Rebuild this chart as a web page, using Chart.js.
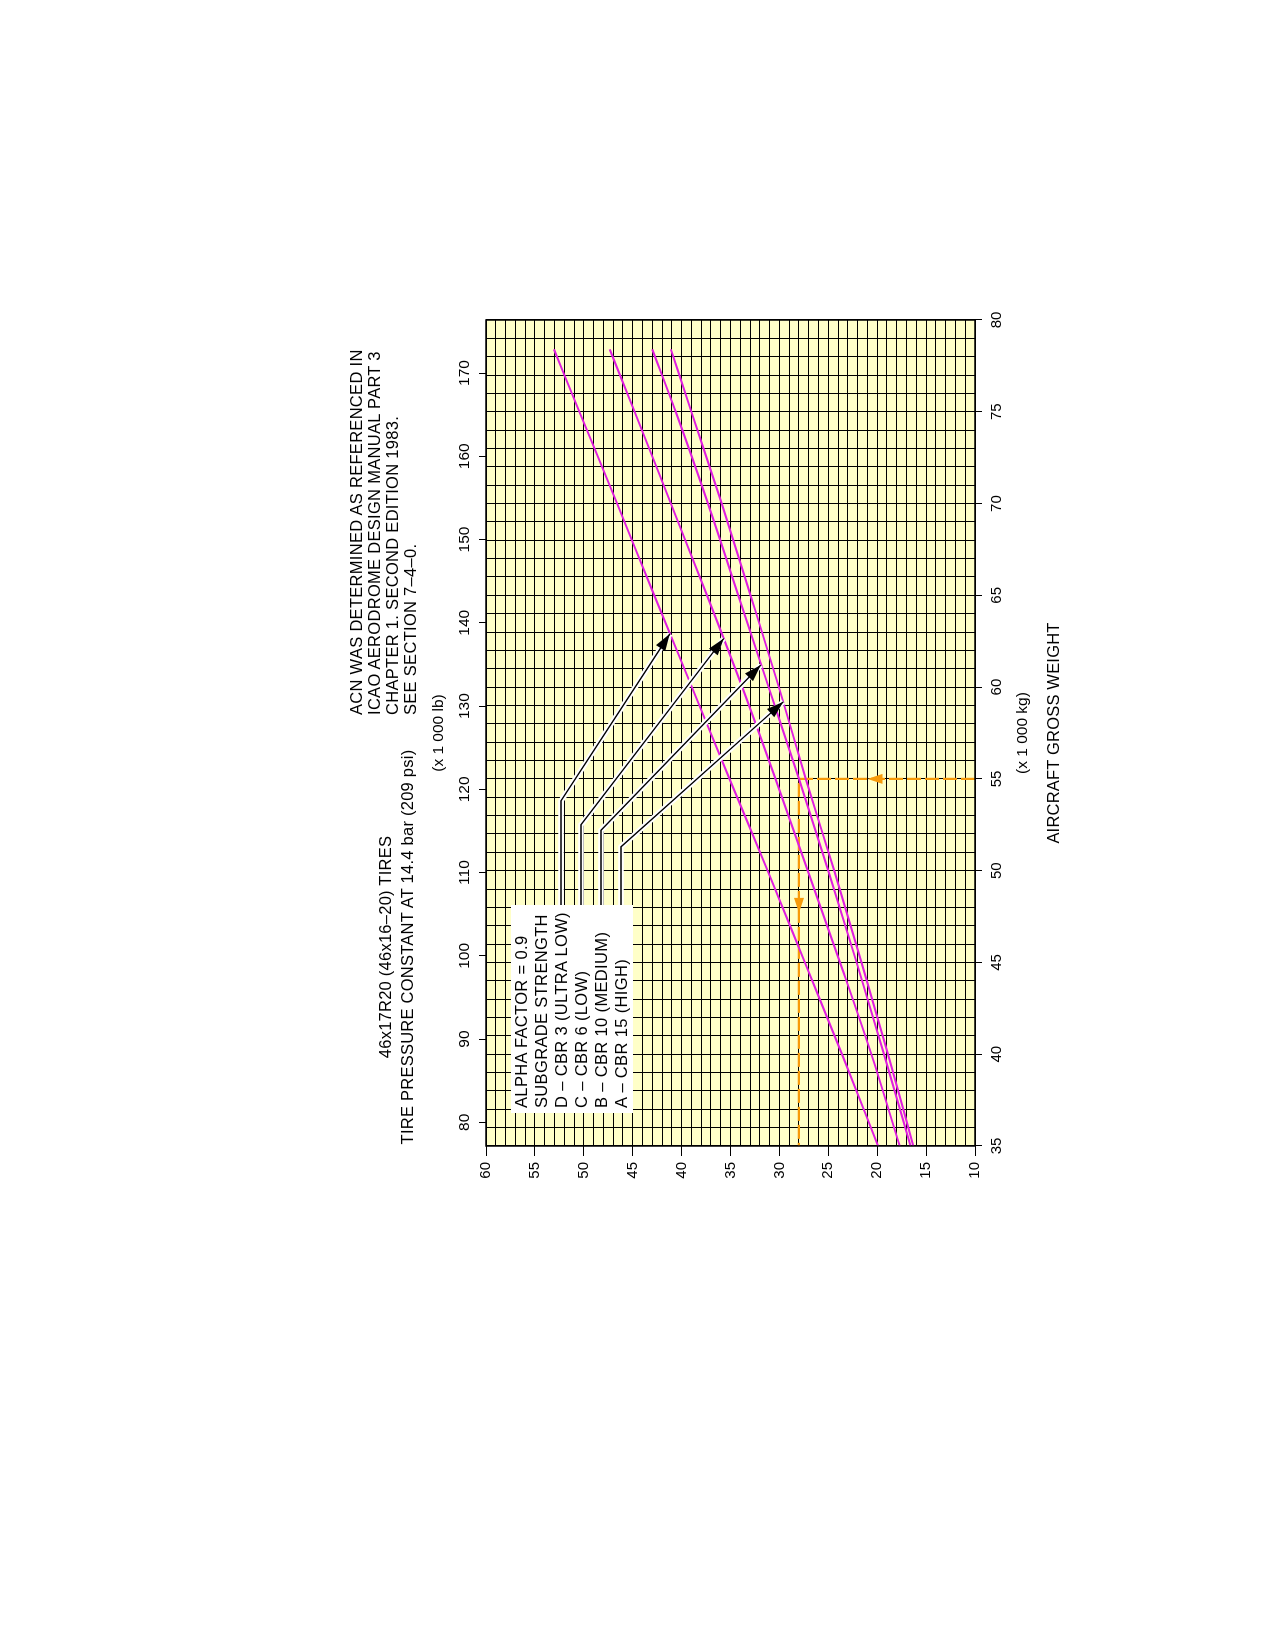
<!DOCTYPE html>
<html>
<head>
<meta charset="utf-8">
<script src="https://cdn.jsdelivr.net/npm/chart.js@4.4.1/dist/chart.umd.min.js"></script>
<style>
  html, body { margin: 0; padding: 0; background: #fff; overflow: hidden; width: 1275px; height: 1645px; }
  /* the chart is laid out upright and then turned a quarter turn, like the printed page */
  #page { position: absolute; left: 0; top: 1645px; width: 1645px; height: 1275px;
          transform-origin: 0 0; transform: rotate(-90deg);
          font-family: "Liberation Sans", Arial, sans-serif; color: #000; }
  #acn { position: absolute; left: 0; top: 0; }
  .t { position: absolute; white-space: nowrap; }
  #title1 { left: 398px; width: 600px; top: 374px; text-align: center; font-size: 16.5px; line-height: 22px; letter-spacing: 0.25px; }
  #title2 { left: 930px; top: 347px; font-size: 16.5px; line-height: 18px; letter-spacing: 0.3px; }
  #lbTitle { left: 812px; width: 200px; top: 429px; text-align: center; font-size: 15.5px; line-height: 18px; }
  #kgTitle { left: 812px; width: 200px; top: 1013px; text-align: center; font-size: 15.5px; line-height: 18px; }
  #axTitle { left: 762px; width: 300px; top: 1043px; text-align: center; font-size: 16.5px; line-height: 20px; letter-spacing: 0.2px; }
  #key { position: absolute; left: 532px; top: 511px; background: #fff; padding: 0 7px 2px 5px;
         font-size: 16.5px; line-height: 20px; white-space: nowrap; letter-spacing: 0.35px; }
</style>
</head>
<body>
<div id="page">
  <canvas id="acn" width="1645" height="1275" style="width:1645px;height:1275px"></canvas>
  <div class="t" id="title1">46x17R20 (46x16–20) TIRES<br>TIRE PRESSURE CONSTANT AT 14.4 bar (209 psi)</div>
  <div class="t" id="title2">ACN WAS DETERMINED AS REFERENCED IN<br>ICAO AERODROME DESIGN MANUAL PART 3<br>CHAPTER 1. SECOND EDITION 1983.<br>SEE SECTION 7–4–0.</div>
  <div class="t" id="lbTitle">(x 1 000 lb)</div>
  <div class="t" id="kgTitle">(x 1 000 kg)</div>
  <div class="t" id="axTitle">AIRCRAFT GROSS WEIGHT</div>
  <div id="key">
    <div>ALPHA FACTOR = 0.9</div>
    <div>SUBGRADE STRENGTH</div>
    <div><span id="keyD">D – CBR 3 (ULTRA LOW)</span></div>
    <div><span id="keyC">C – CBR 6 (LOW)</span></div>
    <div><span id="keyB">B – CBR 10 (MEDIUM)</span></div>
    <div><span id="keyA">A – CBR 15 (HIGH)</span></div>
  </div>
</div>
<script>
// ACN vs aircraft gross weight, flexible pavement, four subgrade strengths.
// Weights in 1000 kg, ACN.
var weightKg = [35, 40, 45, 50, 55, 60, 65, 70, 75, 78.4];
var acnD = [19.9, 23.6, 27.4, 31.2, 35.1, 38.95, 42.8, 46.6, 50.45, 53.05]; // CBR 3
var acnC = [17.7, 20.6, 23.8, 27.1, 30.4, 33.8, 37.4, 41.1, 44.8, 47.35];  // CBR 6
var acnB = [16.6, 19.3, 22.1, 25.0, 28.0, 31.1, 34.2, 37.3, 40.6, 43.0];   // CBR 10
var acnA = [16.3, 18.9, 21.6, 24.4, 27.3, 30.05, 32.95, 35.9, 39.0, 41.1]; // CBR 15

// axis labels
var kgTicks  = [35, 40, 45, 50, 55, 60, 65, 70, 75, 80];
var lbTicks  = [80, 90, 100, 110, 120, 130, 140, 150, 160, 170];
var acnTicks = [10, 15, 20, 25, 30, 35, 40, 45, 50, 55, 60];

// worked example (orange dashed path) and where its arrows sit
var exampleKg  = [55, 55, 35];
var exampleAcn = [10, 28, 28];
var exampleArrowKg  = [55, 47.7];
var exampleArrowAcn = [21, 28];

// key leader lines: bend weight, then arrow tip on the curve
var keyIds    = ['D', 'C', 'B', 'A'];
var keyBendKg = [53.8, 52.5, 52.2, 51.3];
var keyTipKg  = [62.9, 62.65, 61.2, 59.2];
var keyTipAcn = [41.2, 35.7, 31.9, 29.6];

var KG_PER_KLB = 0.45359237;
var FONT = '"Liberation Sans", Arial, sans-serif';
var MAGENTA = '#e01ee0';
var ORANGE = '#f79a0a';

function pts(xs, ys) {
  return xs.map(function(x, i) { return { x: x, y: ys[i] }; });
}

function curve(name, ys) {
  return {
    label: name, data: pts(weightKg, ys),
    borderColor: MAGENTA, borderWidth: 2, pointRadius: 0,
    cubicInterpolationMode: 'monotone', fill: false
  };
}

function arrowHead(ctx, x0, y0, x1, y1, len, half, color) {
  var a = Math.atan2(y1 - y0, x1 - x0);
  ctx.save();
  ctx.translate(x1, y1);
  ctx.rotate(a);
  ctx.beginPath();
  ctx.moveTo(0, 0);
  ctx.lineTo(-len, -half);
  ctx.lineTo(-len, half);
  ctx.closePath();
  ctx.fillStyle = color;
  ctx.fill();
  ctx.restore();
}

var overlay = {
  id: 'overlay',
  beforeDraw: function(chart) {
    var a = chart.chartArea, ctx = chart.ctx;
    ctx.save();
    ctx.fillStyle = '#ffffc8';
    ctx.fillRect(a.left, a.top, a.right - a.left, a.bottom - a.top);
    ctx.restore();
  },
  afterDatasetsDraw: function(chart) {
    var ctx = chart.ctx, xs = chart.scales.x, ys = chart.scales.y;

    // orange arrows on the example path
    var ax0 = xs.getPixelForValue(exampleArrowKg[0]), ay0 = ys.getPixelForValue(exampleArrowAcn[0]);
    arrowHead(ctx, ax0, ay0 + 10, ax0, ay0, 15, 5, ORANGE);
    var ax1 = xs.getPixelForValue(exampleArrowKg[1]), ay1 = ys.getPixelForValue(exampleArrowAcn[1]);
    arrowHead(ctx, ax1 + 10, ay1, ax1, ay1, 15, 5, ORANGE);

    // leader lines from the key to the curves
    var key = document.getElementById('key');
    keyIds.forEach(function(id, i) {
      var el = document.getElementById('key' + id);
      var sx = key.offsetLeft + el.offsetLeft + el.offsetWidth + 3;
      var sy = key.offsetTop + el.offsetTop + el.offsetHeight / 2;
      var bx = xs.getPixelForValue(keyBendKg[i]);
      var tx = xs.getPixelForValue(keyTipKg[i]), ty = ys.getPixelForValue(keyTipAcn[i]);
      ctx.save();
      ctx.lineJoin = 'miter';
      ctx.beginPath();
      ctx.moveTo(sx, sy); ctx.lineTo(bx, sy); ctx.lineTo(tx, ty);
      ctx.strokeStyle = '#fff'; ctx.lineWidth = 5.5; ctx.stroke();
      ctx.beginPath();
      ctx.moveTo(sx, sy); ctx.lineTo(bx, sy); ctx.lineTo(tx, ty);
      ctx.strokeStyle = '#000'; ctx.lineWidth = 1.3; ctx.stroke();
      ctx.restore();
      arrowHead(ctx, bx, sy, tx, ty, 17, 5.5, '#000');
    });
  },
  afterDraw: function(chart) {
    var a = chart.chartArea, ctx = chart.ctx;
    ctx.save();
    ctx.strokeStyle = '#000';
    ctx.lineWidth = 1.5;
    ctx.strokeRect(a.left, a.top, a.right - a.left, a.bottom - a.top);
    ctx.restore();
  }
};

var tickFont = { family: FONT, size: 15 };

new Chart(document.getElementById('acn'), {
  type: 'line',
  data: {
    datasets: [
      curve('D', acnD),
      curve('C', acnC),
      curve('B', acnB),
      curve('A', acnA),
      {
        label: 'example', data: pts(exampleKg, exampleAcn),
        borderColor: ORANGE, borderWidth: 2.2, borderDash: [14, 4],
        pointRadius: 0, tension: 0, fill: false
      }
    ]
  },
  options: {
    responsive: false,
    animation: false,
    devicePixelRatio: 1,
    layout: { padding: { left: 0, right: 320, top: 0, bottom: 0 } },
    plugins: { legend: { display: false }, tooltip: { enabled: false } },
    scales: {
      x: {
        type: 'linear', position: 'bottom', min: 35, max: 80,
        afterFit: function(s) { s.height = 300; },
        ticks: {
          stepSize: 1, autoSkip: false, maxRotation: 0, padding: 6,
          color: '#000', font: tickFont,
          callback: function(v) { return kgTicks.indexOf(v) >= 0 ? String(v) : ''; }
        },
        grid: {
          color: '#000', lineWidth: 1, tickLength: 7,
          tickColor: function(c) { return c.tick && kgTicks.indexOf(c.tick.value) >= 0 ? '#000' : 'rgba(0,0,0,0)'; }
        },
        border: { display: false }
      },
      lb: {
        type: 'linear', axis: 'x', position: 'top',
        min: 35 / KG_PER_KLB, max: 80 / KG_PER_KLB,
        afterFit: function(s) { s.height = 486; },
        afterBuildTicks: function(s) { s.ticks = lbTicks.map(function(v) { return { value: v }; }); },
        ticks: { autoSkip: false, maxRotation: 0, padding: 5, color: '#000', font: { family: FONT, size: 15.5 } },
        grid: { drawOnChartArea: false, color: '#000', tickLength: 7 },
        border: { display: false }
      },
      y: {
        type: 'linear', position: 'left', min: 10, max: 60,
        afterFit: function(s) { s.width = 499; },
        ticks: {
          stepSize: 1, autoSkip: false, padding: 6, color: '#000', font: tickFont,
          callback: function(v) { return acnTicks.indexOf(v) >= 0 ? String(v) : ''; }
        },
        grid: {
          color: '#000', lineWidth: 1, tickLength: 10,
          tickColor: function(c) { return c.tick && acnTicks.indexOf(c.tick.value) >= 0 ? '#000' : 'rgba(0,0,0,0)'; }
        },
        border: { display: false }
      }
    }
  },
  plugins: [overlay]
});
</script>
</body>
</html>
